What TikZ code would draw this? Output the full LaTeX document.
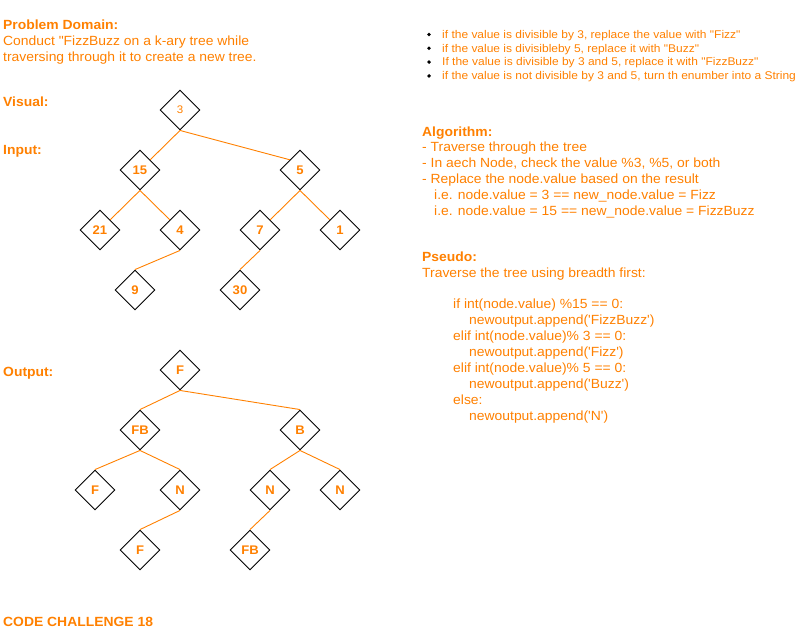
\documentclass[tikz,border=0pt]{standalone}
\usepackage{fontspec}
\setmainfont[FakeStretch=1.045,Ligatures=TeXOff]{Liberation Sans}
\newfontfamily\bulfont[FakeStretch=1.07,Ligatures=TeXOff]{Liberation Sans}
\usetikzlibrary{shapes.geometric}
\definecolor{org}{RGB}{255,128,0}
\tikzset{
  dia/.style={draw=black, line width=0.9pt, shape=diamond, aspect=1, minimum width=40pt, minimum height=40pt, inner sep=0pt, text=org, font=\fontsize{12.5}{14}\selectfont\bfseries},
  edge/.style={draw=org, line width=0.9pt},
  txt/.style={anchor=base west, inner sep=0pt, text=org, font=\fontsize{13.3}{16}\selectfont},
  hd/.style={txt, font=\fontsize{13.3}{16}\selectfont\bfseries},
  bul/.style={anchor=base west, inner sep=0pt, text=org, font=\bulfont\fontsize{11.2}{13}\selectfont},
  dot/.style={circle, fill=black, inner sep=0pt, minimum size=3.8pt}
}
\begin{document}
\begin{tikzpicture}[x=1pt,y=-1pt]
\useasboundingbox (0,0) rectangle (811,631);
% left texts
\node[hd] (pd) at (3,29.5) {Problem Domain:};
\node[txt] (pd1) at (3,45.7) {Conduct "FizzBuzz on a k-ary tree while};
\node[txt] (pd2) at (3,61.7) {traversing through it to create a new tree.};
\node[hd] (vis) at (3,106.5) {Visual:};
\node[hd] (inp) at (3,155) {Input:};
\node[hd] (outp) at (3,376) {Output:};
\node[hd] (cc) at (3,626) {CODE CHALLENGE 18};
% bullets
\node[dot] (d1) at (429,34.5) {};
\node[bul] (b1) at (442,38.3) {if the value is divisible by 3, replace the value with "Fizz"};
\node[dot] (d2) at (429,48.3) {};
\node[bul] (b2) at (442,52.1) {if the value is divisibleby 5, replace it with "Buzz"};
\node[dot] (d3) at (429,62.1) {};
\node[bul] (b3) at (442,65.9) {If the value is divisible by 3 and 5, replace it with "FizzBuzz"};
\node[dot] (d4) at (429,75.9) {};
\node[bul] (b4) at (442,79.7) {if the value is not divisible by 3 and 5, turn th enumber into a String};
% algorithm
\node[hd] (alg) at (422,136.5) {Algorithm:};
\node[txt] (a1) at (422,151.5) {- Traverse through the tree};
\node[txt] (a2) at (422,167.5) {- In aech Node, check the value \%3, \%5, or both};
\node[txt] (a3) at (422,183.5) {- Replace the node.value based on the result};
\node[txt] (a4) at (434,199.5) {i.e. node.value = 3 == new\_node.value = Fizz};
\node[txt] (a5) at (434,215.5) {i.e. node.value = 15 == new\_node.value = FizzBuzz};
% pseudo
\node[hd] (ps) at (422,261.5) {Pseudo:};
\node[txt] (p0) at (422,277.5) {Traverse the tree using breadth first:};
\node[txt] (p1) at (453,308) {if int(node.value) \%15 == 0:};
\node[txt] (p2) at (469,324) {newoutput.append('FizzBuzz')};
\node[txt] (p3) at (453,340) {elif int(node.value)\% 3 == 0:};
\node[txt] (p4) at (469,356) {newoutput.append('Fizz')};
\node[txt] (p5) at (453,372) {elif int(node.value)\% 5 == 0:};
\node[txt] (p6) at (469,388) {newoutput.append('Buzz')};
\node[txt] (p7) at (453,404) {else:};
\node[txt] (p8) at (469,420) {newoutput.append('N')};
% input tree
\node[dia, font=\fontsize{11}{13}\selectfont] (n3) at (180,110) {3};
\node[dia] (n15) at (140,170) {15};
\node[dia] (n5) at (300,170) {5};
\node[dia] (n21) at (100,230) {21};
\node[dia] (n4) at (180,230) {4};
\node[dia] (n7) at (260,230) {7};
\node[dia] (n1) at (340,230) {1};
\node[dia] (n9) at (135,290) {9};
\node[dia] (n30) at (240,290) {30};
\draw[edge] (n3.south) -- (n15.north east);
\draw[edge] (n3.south) -- (n5.north west);
\draw[edge] (n15.south) -- (n21.north east);
\draw[edge] (n15.south) -- (n4.north west);
\draw[edge] (n4.south) -- (n9.north);
\draw[edge] (n5.south) -- (n7.north east);
\draw[edge] (n5.south) -- (n1.north west);
\draw[edge] (n7.south) -- (n30.north);
% output tree
\node[dia] (oF) at (180,370) {F};
\node[dia] (oFB) at (140,430) {FB};
\node[dia] (oB) at (300,430) {B};
\node[dia] (oF2) at (95,490) {F};
\node[dia] (oN1) at (180,490) {N};
\node[dia] (oN2) at (270,490) {N};
\node[dia] (oN3) at (340,490) {N};
\node[dia] (oF3) at (140,550) {F};
\node[dia] (oFB2) at (250,550) {FB};
\draw[edge] (oF.south) -- (oFB.north);
\draw[edge] (oF.south) -- (oB.north);
\draw[edge] (oFB.south) -- (oF2.north);
\draw[edge] (oFB.south) -- (oN1.north);
\draw[edge] (oB.south) -- (oN2.north);
\draw[edge] (oB.south) -- (oN3.north);
\draw[edge] (oN1.south) -- (oF3.north);
\draw[edge] (oN2.south) -- (oFB2.north);
\end{tikzpicture}
\end{document}
